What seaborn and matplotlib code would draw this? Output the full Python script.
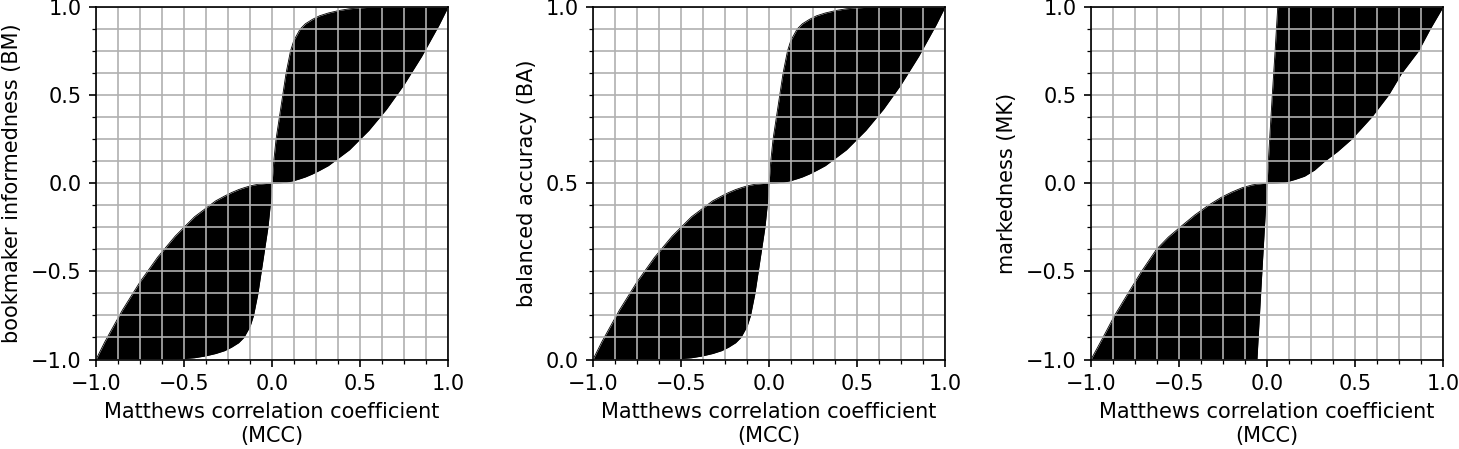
import matplotlib
matplotlib.use("Agg")
import matplotlib.pyplot as plt
import seaborn as sns
import pandas as pd
from matplotlib.ticker import MultipleLocator

# ---------------- data ----------------
mcc_bm = [-1.0, -0.95, -0.9, -0.85, -0.8, -0.75, -0.7, -0.65, -0.6, -0.55,
          -0.5, -0.44, -0.38, -0.32, -0.27, -0.23, -0.19, -0.16, -0.124, -0.105,
          -0.08, -0.061, -0.042, -0.023, -0.01, 0.0, 0.01, 0.023, 0.042, 0.061,
          0.08, 0.105, 0.124, 0.16, 0.19, 0.23, 0.27, 0.32, 0.38, 0.44,
          0.5, 0.55, 0.6, 0.65, 0.7, 0.75, 0.8, 0.85, 0.9, 0.95, 1.0]

bm_lower = [-1.0, -1.0, -1.0, -1.0, -1.0, -1.0, -1.0, -1.0, -1.0, -0.998,
            -0.995, -0.99, -0.98, -0.966, -0.95, -0.93, -0.905, -0.875, -0.81, -0.75,
            -0.625, -0.5, -0.375, -0.25, -0.125, 0.0, 0.0, 0.0005, 0.002, 0.004,
            0.006, 0.011, 0.015, 0.026, 0.036, 0.053, 0.073, 0.10, 0.145, 0.19,
            0.25, 0.30, 0.36, 0.42, 0.49, 0.56, 0.64, 0.72, 0.81, 0.90, 1.0]

bm_upper = [-1.0, -0.90, -0.81, -0.72, -0.64, -0.56, -0.49, -0.42, -0.36, -0.30,
            -0.25, -0.19, -0.145, -0.10, -0.073, -0.053, -0.036, -0.026, -0.015, -0.011,
            -0.006, -0.004, -0.002, -0.0005, 0.0, 0.0, 0.125, 0.25, 0.375, 0.5,
            0.625, 0.75, 0.81, 0.875, 0.905, 0.93, 0.95, 0.966, 0.98, 0.99,
            0.995, 0.998, 1.0, 1.0, 1.0, 1.0, 1.0, 1.0, 1.0, 1.0, 1.0]

ba_lower = [0.0, 0.0, 0.0, 0.0, 0.0, 0.0, 0.0, 0.0, 0.0, 0.001,
            0.0025, 0.005, 0.01, 0.017, 0.025, 0.035, 0.0475, 0.0625, 0.095, 0.125,
            0.1875, 0.25, 0.3125, 0.375, 0.4375, 0.5, 0.5, 0.50025, 0.501, 0.502,
            0.503, 0.5055, 0.5075, 0.513, 0.518, 0.5265, 0.5365, 0.55, 0.5725, 0.595,
            0.625, 0.65, 0.68, 0.71, 0.745, 0.78, 0.82, 0.86, 0.905, 0.95, 1.0]

ba_upper = [0.0, 0.05, 0.095, 0.14, 0.18, 0.22, 0.255, 0.29, 0.32, 0.35,
            0.375, 0.405, 0.4275, 0.45, 0.4635, 0.4735, 0.482, 0.487, 0.4925, 0.4945,
            0.497, 0.498, 0.499, 0.49975, 0.5, 0.5, 0.5625, 0.625, 0.6875, 0.75,
            0.8125, 0.875, 0.905, 0.9375, 0.9525, 0.965, 0.975, 0.983, 0.99, 0.995,
            0.9975, 0.999, 1.0, 1.0, 1.0, 1.0, 1.0, 1.0, 1.0, 1.0, 1.0]

mcc_mk = [-1.0, -0.932, -0.866, -0.79, -0.713, -0.628, -0.56, -0.495, -0.41, -0.333,
          -0.26, -0.2, -0.14, -0.086, -0.057, -0.03, 0.0, 0.015, 0.03, 0.046,
          0.061, 0.09, 0.118, 0.16, 0.213, 0.27, 0.327, 0.40, 0.48, 0.594,
          0.69, 0.765, 0.86, 0.927, 1.0]

mk_lower = [-1.0, -1.0, -1.0, -1.0, -1.0, -1.0, -1.0, -1.0, -1.0, -1.0,
            -1.0, -1.0, -1.0, -1.0, -1.0, -0.52, 0.0, 0.0, 0.0, 0.001,
            0.002, 0.005, 0.01, 0.022, 0.04, 0.075, 0.125, 0.18, 0.25, 0.375,
            0.5, 0.625, 0.75, 0.875, 1.0]

mk_upper = [-1.0, -0.875, -0.75, -0.625, -0.5, -0.375, -0.305, -0.25, -0.18, -0.125,
            -0.08, -0.05, -0.025, -0.01, -0.005, -0.002, 0.0, 0.25, 0.5, 0.75,
            1.0, 1.0, 1.0, 1.0, 1.0, 1.0, 1.0, 1.0, 1.0, 1.0,
            1.0, 1.0, 1.0, 1.0, 1.0]

xlabel = "Matthews correlation coefficient\n(MCC)"
ylabels = ["bookmaker informedness (BM)", "balanced accuracy (BA)", "markedness (MK)"]

# ---------------- figure ----------------
plt.rcParams.update({"font.size": 10, "font.family": ["DejaVu Sans"]})
W, H, DPI = 1459, 449, 150
fig = plt.figure(figsize=(W / DPI, H / DPI), dpi=DPI)

panels = [
    (mcc_bm, bm_lower, bm_upper, ylabels[0], (-1.0, 1.0), 0.125, 96),
    (mcc_bm, ba_lower, ba_upper, ylabels[1], (0.0, 1.0), 0.0625, 593),
    (mcc_mk, mk_lower, mk_upper, ylabels[2], (-1.0, 1.0), 0.125, 1091),
]

for x, lo, hi, ylab, ylim, yminor, left_px in panels:
    ax = fig.add_axes([left_px / W, 1 - 359.5 / H, 352 / W, 352.5 / H])
    df = pd.DataFrame({"mcc": x, "lower": lo, "upper": hi})
    ax.fill_between(df["mcc"], df["lower"], df["upper"], color="black", linewidth=0)
    sns.lineplot(data=df, x="mcc", y="lower", color="black", linewidth=0.4,
                 estimator=None, sort=False, ax=ax)
    sns.lineplot(data=df, x="mcc", y="upper", color="black", linewidth=0.4,
                 estimator=None, sort=False, ax=ax)
    ax.set_xlim(-1.0, 1.0)
    ax.set_ylim(*ylim)
    ax.xaxis.set_major_locator(MultipleLocator(0.5))
    ax.xaxis.set_minor_locator(MultipleLocator(0.125))
    ax.yaxis.set_major_locator(MultipleLocator(0.5))
    ax.yaxis.set_minor_locator(MultipleLocator(yminor))
    ax.set_axisbelow(False)
    ax.grid(True, which="both", color="#b0b0b0", linewidth=0.8)
    for s in ax.spines.values():
        s.set_color("black")
        s.set_linewidth(0.8)
        s.set_zorder(3)
    ax.set_xlabel(xlabel)
    ax.set_ylabel(ylab)

fig.savefig("out.png", dpi=DPI)
